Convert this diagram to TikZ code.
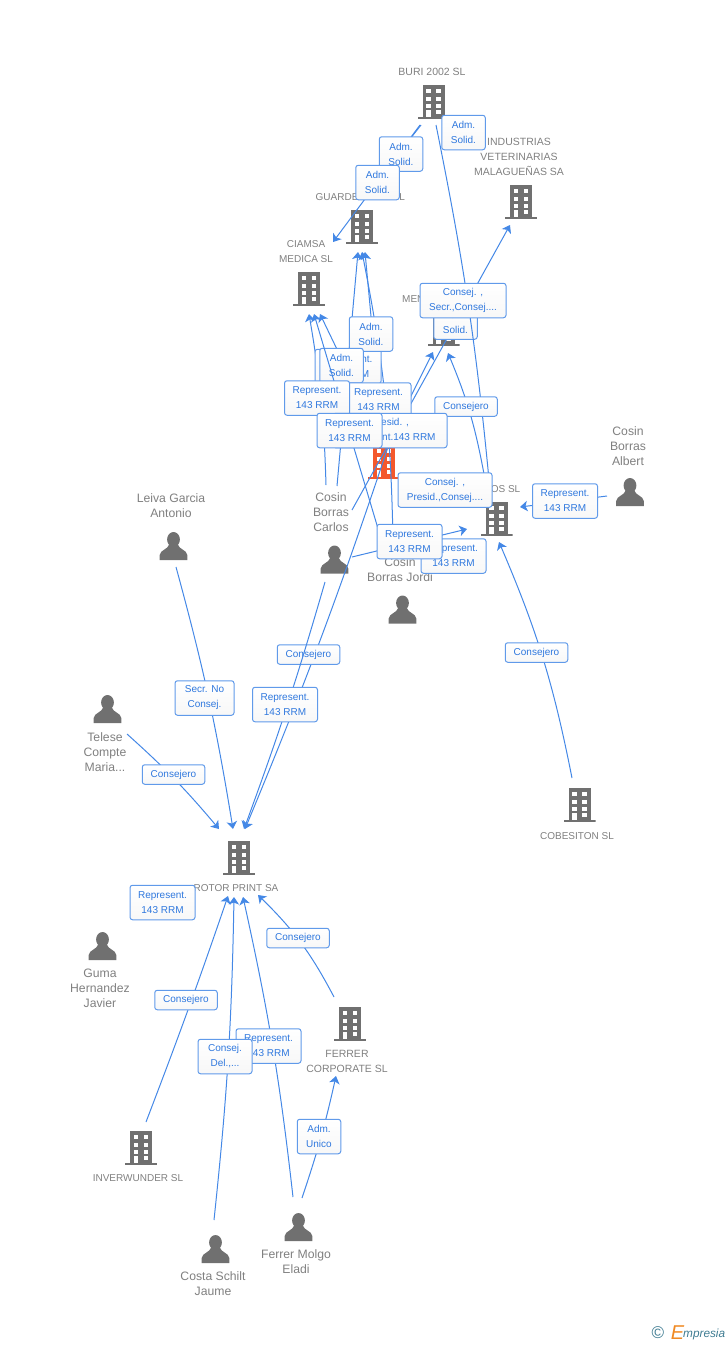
\documentclass[tikz,border=0pt]{standalone}
\usepackage{fontspec}
\setmainfont{Liberation Sans}
\usetikzlibrary{arrows.meta}
\definecolor{iconGray}{HTML}{707070}
\definecolor{iconHot}{HTML}{F4582C}
\definecolor{linkBlue}{HTML}{4488E6}
\definecolor{tagBlue}{HTML}{2F78DE}
\definecolor{nameGray}{HTML}{808080}
\definecolor{logoTeal}{HTML}{3F7C92}
\definecolor{logoOrange}{HTML}{F08A24}
\newcommand{\bldgshape}[1]{
  \fill[#1] (-11,-17) rectangle (11,15);
  \fill[#1] (-16,15) rectangle (16,17);
  \foreach \wy in {-13,-5.5,1.5}{
    \fill[white] (-7.5,\wy) rectangle (-3,\wy+4.2);
    \fill[white] (2.5,\wy) rectangle (7,\wy+4.2);
  }
  \fill[white] (-7.5,7.5) rectangle (-3,15);
  \fill[white] (2.5,7.5) rectangle (7,12);
}
\tikzset{
  bldg/.style={inner sep=0pt,minimum width=32pt,minimum height=34pt,
    path picture={\begin{scope}[shift={(path picture bounding box.center)}]\bldgshape{iconGray}\end{scope}}},
  bldghot/.style={inner sep=0pt,minimum width=32pt,minimum height=34pt,
    path picture={\begin{scope}[shift={(path picture bounding box.center)}]\bldgshape{iconHot}\end{scope}}},
  person/.style={inner sep=0pt,minimum width=28pt,minimum height=28pt,
    path picture={\begin{scope}[shift={(path picture bounding box.center)}]
      \fill[iconGray] (0,-6.5) ellipse (6.4 and 7.5);
      \fill[iconGray] (-13.8,14) -- (-13.8,9) .. controls (-13,3.5) and (-6,4) .. (-4,-2)
        -- (4,-2) .. controls (6,4) and (13,3.5) .. (13.8,9) -- (13.8,14) -- cycle;
    \end{scope}}},
  nm/.style={inner sep=0pt,align=center,text=nameGray,yshift=-1pt,font=\fontsize{10}{15}\selectfont},
  nmbig/.style={nm,font=\fontsize{10.5}{15}\selectfont},
  who/.style={nm,font=\fontsize{12.2}{15}\selectfont},
  tag/.style={draw=linkBlue!85!white,line width=1pt,rounded corners=2.5pt,top color=white,bottom color=black!3,
    inner sep=0pt,align=center,text=tagBlue,minimum height=34.5pt,font=\fontsize{10}{15}\selectfont},
  tagS/.style={tag,minimum width=43.5pt},
  tagM/.style={tag,minimum width=65pt},
  tagC/.style={tag,minimum width=62.5pt,minimum height=19.5pt},
  lnk/.style={draw=linkBlue,line width=1pt,-{Stealth[length=7.5pt,width=10.5pt,inset=2pt]}},
  lnkend/.style={draw=linkBlue,line width=1pt}
}
\begin{document}
\begin{tikzpicture}[x=1pt,y=-1pt]
  \useasboundingbox (0,0) rectangle (728,1345);

  % companies
  \node[bldg] (buri) at (433.5,102) {};
  \node[bldg] (indus) at (521,202) {};
  \node[bldg] (guarde) at (362,227) {};
  \node[bldg] (ciamsa) at (309,289) {};
  \node[bldg] (men) at (443.5,329) {};
  \node[bldghot] (orange) at (384,462) {};
  \node[bldg] (os) at (496.5,519) {};
  \node[bldg] (rotor) at (239,858) {};
  \node[bldg] (cobes) at (579.5,805) {};
  \node[bldg] (ferrer) at (350,1024) {};
  \node[bldg] (inver) at (141,1148) {};

  % people
  \node[person] (albert) at (630,492) {};
  \node[person] (leiva) at (173.5,546) {};
  \node[person] (carlos) at (334.5,559.5) {};
  \node[person] (jordi) at (402.5,609.5) {};
  \node[person] (telese) at (107.5,709) {};
  \node[person] (guma) at (102.5,946) {};
  \node[person] (costa) at (215.5,1249) {};
  \node[person] (eladi) at (298.5,1227) {};

  % names
  \node[nmbig] (buriName) at (432,71) {BURI 2002 SL};
  \node[nmbig] (indusName) at (519,156) {INDUSTRIAS\\VETERINARIAS\\MALAGUEÑAS SA};
  \node[nm,anchor=west] (guardeName) at (315.5,196) {GUARDE\hspace{41pt}L};
  \node[nm] (ciamsaName) at (306,250.5) {CIAMSA\\MEDICA SL};
  \node[nm,anchor=west] (menName) at (402,298) {MEN};
  \node[nm,anchor=east] (osName) at (520.5,488) {OS SL};
  \node[who] (albertName) at (628,445) {Cosin\\Borras\\Albert};
  \node[who] (leivaName) at (171,504.5) {Leiva Garcia\\Antonio};
  \node[who] (carlosName) at (331,511) {Cosin\\Borras\\Carlos};
  \node[who] (jordiName) at (400,568.5) {Cosin\\Borras Jordi};
  \node[who] (teleseName) at (105,751) {Telese\\Compte\\Maria...};
  \node[nm] (rotorName) at (236,887) {ROTOR PRINT SA};
  \node[nm] (cobesName) at (577,835) {COBESITON SL};
  \node[who] (gumaName) at (100,987) {Guma\\Hernandez\\Javier};
  \node[nmbig] (ferrerName) at (347,1060.5) {FERRER\\CORPORATE  SL};
  \node[nm] (inverName) at (138,1177) {INVERWUNDER SL};
  \node[who] (costaName) at (213,1282.5) {Costa Schilt\\Jaume};
  \node[who] (eladiName) at (296,1260.5) {Ferrer Molgo\\Eladi};

  % links
  \draw[lnk] ([shift={(-13.5,23)}]buri.center) -- ([shift={(-29,15)}]guarde.center);
  \draw[lnkend] ([shift={(-12.5,23)}]buri.center) -- ([shift={(8,-37)}]guarde.center);
  \draw[lnk] ([shift={(17.5,-49.5)}]carlos.center) -- ([shift={(-11,23)}]indus.center);
  \draw[lnk] ([shift={(1,-14)}]orange.center) -- ([shift={(-10.5,23)}]men.center);
  \draw[lnk] ([shift={(-12.5,-45)}]os.center) to[bend right=6] ([shift={(4.5,24)}]men.center);
  \draw[lnk] ([shift={(-8.5,-74.5)}]carlos.center) to[bend right=4] ([shift={(0,25)}]ciamsa.center);
  \draw[lnk] ([shift={(0,-15)}]orange.center) -- ([shift={(11,25)}]ciamsa.center);
  \draw[lnk] ([shift={(2.5,-73.5)}]carlos.center) -- ([shift={(-4,25)}]guarde.center);
  \draw[lnk] ([shift={(-9.5,-69.5)}]jordi.center) to[bend right=5] ([shift={(0,25)}]guarde.center);
  \draw[lnk] ([shift={(-1,-17)}]orange.center) -- ([shift={(3,25)}]guarde.center);
  \draw[lnk] ([shift={(17.5,-2.5)}]carlos.center) -- ([shift={(-29.5,10)}]os.center);
  \draw[lnk] ([shift={(4,-15)}]orange.center) to[bend left=2] ([shift={(6,-29)}]rotor.center);
  \draw[lnk] ([shift={(2.5,21)}]leiva.center) to[bend left=3] ([shift={(-6,-29)}]rotor.center);
  \draw[lnk] ([shift={(19.5,25)}]telese.center) to[bend left=4] ([shift={(-20,-29)}]rotor.center);
  \draw[lnk] ([shift={(-7.5,-27)}]cobes.center) to[bend right=6] ([shift={(2.5,23)}]os.center);
  \draw[lnk] ([shift={(-23,4)}]albert.center) -- ([shift={(23.5,-12)}]os.center);
  \draw[lnk] ([shift={(-16,-27)}]ferrer.center) to[bend right=9] ([shift={(19,37)}]rotor.center);
  \draw[lnk] ([shift={(5,-26)}]inver.center) to[bend right=1] ([shift={(-11,38)}]rotor.center);
  \draw[lnk] ([shift={(-1.5,-29)}]costa.center) to[bend right=2.5] ([shift={(-5,39)}]rotor.center);
  \draw[lnk] ([shift={(-5.5,-30)}]eladi.center) to[bend right=3] ([shift={(4,39)}]rotor.center);
  \draw[lnk] ([shift={(3.5,-29)}]eladi.center) to[bend right=3] ([shift={(-14,52)}]ferrer.center);

  % tags, back to front
  \node[tagS] (tagBuriA) at (463.5,132.5) {Adm.\\Solid.};
  \node[tagS] (tagBuriB) at (401,154) {Adm.\\Solid.};
  \node[tagS] (tagBuriC) at (377.5,182.5) {Adm.\\Solid.};
  \node[tagS] (tagMen) at (455.5,322) {Adm.\\Solid.};
  \draw[lnkend] ([shift={(2.5,23)}]buri.center) to[bend left=3] ([shift={(-6.5,-29)}]os.center);
  \node[tag,minimum width=86pt] (tagIndus) at (463,300.5) {Consej. ,\\Secr.,Consej....};
  \node[tagM,minimum width=66pt] (tagCiamsaA) at (348,366.5) {Represent.\\143 RRM};
  \node[tagS] (tagGuarde) at (371,334) {Adm.\\Solid.};
  \node[tagS] (tagCiamsaB) at (341.5,365.5) {Adm.\\Solid.};
  \node[tagM] (tagGuardeB) at (378.5,400) {Represent.\\143 RRM};
  \draw[lnk] ([shift={(-17.5,-57.5)}]jordi.center) -- ([shift={(5,25)}]ciamsa.center);
  \node[tagC] (tagOsMen) at (466,406.5) {Consejero};
  \node[tagM] (tagCiamsaC) at (317,398) {Represent.\\143 RRM};
  \node[tag,minimum width=114pt] (tagPresid) at (390,430.5) {Presid. ,\\Represent.143 RRM};
  \node[tagM] (tagCarlosG) at (349.5,430.5) {Represent.\\143 RRM};
  \node[tag,minimum width=94pt] (tagOsCons) at (445,490) {Consej. ,\\Presid.,Consej....};
  \node[tagM] (tagAlbert) at (565,501) {Represent.\\143 RRM};
  \node[tagM] (tagOsRep) at (453.5,556) {Represent.\\143 RRM};
  \node[tagM] (tagCarlosOs) at (409.5,541.5) {Represent.\\143 RRM};
  \node[tagC] (tagCarlosR) at (308.5,654.5) {Consejero};
  \draw[lnk] ([shift={(-9.5,22.5)}]carlos.center) to[bend left=2] ([shift={(5,-29)}]rotor.center);
  \node[tagC] (tagCobes) at (536.5,652.5) {Consejero};
  \node[tagM] (tagOrangeR) at (285,704.5) {Represent.\\143 RRM};
  \node[tag,minimum width=59pt] (tagLeiva) at (204.5,698) {Secr.  No\\Consej.};
  \node[tagC] (tagTelese) at (173.5,774.5) {Consejero};
  \node[tagM] (tagGuma) at (162.5,902.5) {Represent.\\143 RRM};
  \node[tagC] (tagFerrer) at (298,938) {Consejero};
  \node[tagC] (tagInver) at (186,1000) {Consejero};
  \node[tagM] (tagEladi) at (268.5,1046) {Represent.\\143 RRM};
  \node[tag,minimum width=54pt] (tagCosta) at (225,1056.5) {Consej.\\Del.,...};
  \node[tagS] (tagUnico) at (319,1136.5) {Adm.\\Unico};

  % logo
  \node[inner sep=0pt,text=logoTeal,font=\fontsize{17}{17}\selectfont] (logoC) at (658,1333) {©};
  \node[inner sep=0pt,text=logoOrange,font=\fontsize{20}{20}\selectfont\itshape] (logoE) at (677.5,1333) {E};
  \node[inner sep=0pt,anchor=west,text=logoTeal,font=\fontsize{11.8}{13}\selectfont\itshape] (logoW) at (683,1334) {mpresia};
\end{tikzpicture}
\end{document}
